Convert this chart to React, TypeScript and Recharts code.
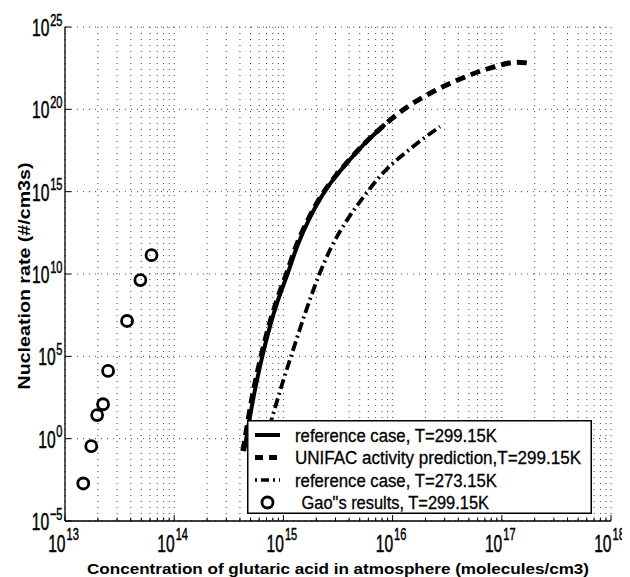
import React from "react";
import {
  CartesianGrid,
  ComposedChart,
  Legend,
  Line,
  Scatter,
  XAxis,
  YAxis,
} from "recharts";

// axis decades and minor steps
const xDecades = [1e13, 1e14, 1e15, 1e16, 1e17, 1e18];
const yDecades = [1e-5, 1e0, 1e5, 1e10, 1e15, 1e20, 1e25];
const minorSteps = [2, 3, 4, 5, 6, 7, 8, 9];

// reference case, T=299.15K
const refWarmX = [4.37e14, 4.57e14, 5.25e14, 6.41e14, 7.59e14, 8.91e14, 1.09e15, 1.34e15, 1.78e15, 2.25e15, 2.95e15, 3.85e15, 5.62e15, 8.5e15];
const refWarmY = [0.178, 1, 200, 1e5, 7.9e6, 2.5e8, 1e10, 5e11, 3.4e13, 5.5e14, 7.1e15, 5.9e16, 9.1e17, 1.2e19];

// UNIFAC activity prediction, T=299.15K
const unifacX = [4.25e14, 4.45e14, 5.1e14, 6.24e14, 7.4e14, 8.7e14, 1.065e15, 1.31e15, 1.75e15, 2.22e15, 2.92e15, 3.82e15, 5.6e15, 8.5e15, 1.36e16, 2.36e16, 4.16e16, 7.8e16, 1.38e17, 1.82e17];
const unifacY = [0.178, 1, 200, 1e5, 7.9e6, 2.5e8, 1e10, 5e11, 3.4e13, 5.5e14, 7.1e15, 5.9e16, 9.1e17, 1.2e19, 1.38e20, 1.2e21, 7e21, 3.2e22, 7.2e22, 6.3e22];

// reference case, T=273.15K
const refColdX = [6.61e14, 7.91e14, 9.66e14, 1.18e15, 1.58e15, 2.08e15, 2.69e15, 3.85e15, 5.38e15, 7.7e15, 1.45e16, 2.72e16];
const refColdY = [0.33, 20.4, 1.74e3, 1.1e5, 4e7, 6.3e9, 3.2e11, 2e13, 4.5e14, 8.9e15, 4e17, 8.9e18];

// Gao's results, T=299.15K
const gaoX = [1.47e13, 1.74e13, 1.97e13, 2.23e13, 2.48e13, 3.7e13, 4.9e13, 6.2e13];
const gaoY = [1.9e-3, 0.35, 27, 123, 1.3e4, 1.4e7, 4.3e9, 1.4e11];

const legendLabels = [
  "reference case, T=299.15K",
  "UNIFAC activity prediction,T=299.15K",
  "reference case, T=273.15K",
  " Gao\"s results, T=299.15K",
];

const toPoints = (xs: number[], ys: number[]) => xs.map((x, i) => ({ x, y: ys[i] }));

const xTicks = [
  ...xDecades,
  ...xDecades.slice(0, -1).flatMap((d) => minorSteps.map((m) => m * d)),
].sort((a, b) => a - b);

const FONT = "'Liberation Sans', Arial, Helvetica, sans-serif";
const SQUEEZE = 0.65;
const BASE_FS = 24;
const EXP_FS = 17;

const expLabel = (v: number) => {
  const e = Math.round(Math.log10(v));
  return e < 0 ? "\u2212" + Math.abs(e) : String(e);
};

// rough width of the exponent text once squeezed
const expWidth = (s: string) =>
  s.split("").reduce((w, c) => w + (c === "\u2212" ? 0.584 : 0.556), 0) * EXP_FS * SQUEEZE;

const Squeezed = ({ x, y, anchor, size, children }: any) => (
  <text
    transform={`translate(${x},${y}) scale(${SQUEEZE},1)`}
    textAnchor={anchor}
    fontFamily={FONT}
    fontSize={size}
    fill="#000"
    stroke="#000"
    strokeWidth={0.5}
  >
    {children}
  </text>
);

const BottomTick = (props: any) => {
  const { x, y, payload } = props;
  const major = xDecades.includes(payload.value);
  return (
    <g>
      <line x1={x} x2={x} y1={y} y2={y - (major ? 6 : 3.5)} stroke="#000" />
      {major && (
        <g>
          <Squeezed x={x + 0.5} y={y + 31} anchor="end" size={BASE_FS}>
            10
          </Squeezed>
          <Squeezed x={x + 1.5} y={y + 19} anchor="start" size={EXP_FS}>
            {expLabel(payload.value)}
          </Squeezed>
        </g>
      )}
    </g>
  );
};

const TopTick = (props: any) => {
  const { x, y, payload } = props;
  const major = xDecades.includes(payload.value);
  return <line x1={x} x2={x} y1={y} y2={y + (major ? 6 : 3.5)} stroke="#000" />;
};

const LeftTick = (props: any) => {
  const { x, y, payload } = props;
  const e = expLabel(payload.value);
  const ew = expWidth(e);
  return (
    <g>
      <line x1={x} x2={x + 6} y1={y} y2={y} stroke="#000" />
      <Squeezed x={x - 2.5 - ew - 0.8} y={y + 9} anchor="end" size={BASE_FS}>
        10
      </Squeezed>
      <Squeezed x={x - 2.5} y={y - 1.5} anchor="end" size={EXP_FS}>
        {e}
      </Squeezed>
    </g>
  );
};

const RightTick = (props: any) => {
  const { x, y } = props;
  return <line x1={x} x2={x - 6} y1={y} y2={y} stroke="#000" />;
};

const Ring = (props: any) => (
  <circle cx={props.cx} cy={props.cy} r={5.5} fill="none" stroke="#000" strokeWidth={2.8} />
);

const legendWidths = [202, 286, 202, 188];

const LegendBox = () => (
  <svg width={345} height={94} style={{ display: "block", overflow: "visible" }}>
    <rect x={0.75} y={0.75} width={343.5} height={92.5} fill="#fff" stroke="#000" strokeWidth={1.5} />
    {legendLabels.map((label, i) => {
      const cy = 15 + 22.5 * i;
      let sample;
      if (i === 0) sample = <line x1={8} x2={33} y1={cy} y2={cy} stroke="#000" strokeWidth={4} />;
      else if (i === 1)
        sample = <line x1={8} x2={33} y1={cy} y2={cy} stroke="#000" strokeWidth={5} strokeDasharray="8 6" />;
      else if (i === 2)
        sample = <line x1={8} x2={33} y1={cy} y2={cy} stroke="#000" strokeWidth={3.5} strokeDasharray="2 4 8 4" />;
      else sample = <circle cx={20.5} cy={cy} r={5.5} fill="none" stroke="#000" strokeWidth={2.8} />;
      return (
        <g key={label}>
          {sample}
          <text
            x={i === 3 ? 50 : 48}
            y={cy + 6.5}
            fontSize={18}
            fontFamily={FONT}
            fill="#000"
            stroke="#000"
            strokeWidth={0.3}
            textLength={legendWidths[i] + (i === 3 ? 4 : 0)}
            lengthAdjust="spacingAndGlyphs"
            style={{ whiteSpace: "pre" }}
          >
            {label}
          </text>
        </g>
      );
    })}
  </svg>
);

const XTitle = (props: any) => {
  const vb = props.viewBox;
  return (
    <text
      x={vb.x + vb.width / 2}
      y={vb.y + 53}
      textAnchor="middle"
      fontSize={15.5}
      fontWeight="bold"
      fontFamily={FONT}
      fill="#000"
      textLength={502}
      lengthAdjust="spacingAndGlyphs"
    >
      Concentration of glutaric acid in atmosphere (molecules/cm3)
    </text>
  );
};

const YTitle = (props: any) => {
  const vb = props.viewBox;
  const cx = 21.5;
  const cy = vb.y + vb.height / 2 + 2;
  return (
    <text
      transform={`translate(${cx},${cy}) rotate(-90)`}
      textAnchor="middle"
      fontSize={16.5}
      fontWeight="bold"
      fontFamily={FONT}
      fill="#000"
      textLength={227}
      lengthAdjust="spacingAndGlyphs"
    >
      Nucleation rate (#/cm3s)
    </text>
  );
};

export default function App() {
  return (
    <div style={{ width: 622, height: 569 }}>
      <ComposedChart
        width={622}
        height={569}
        margin={{ top: 19, right: 19, left: 0, bottom: 0 }}
      >
        <CartesianGrid xAxisId="b" yAxisId="l" stroke="#444" strokeDasharray="1 5" />
        <XAxis
          xAxisId="b"
          dataKey="x"
          type="number"
          scale="log"
          domain={[1e13, 1e18]}
          ticks={xTicks}
          interval={0}
          allowDataOverflow
          height={56}
          tickSize={0}
          tickMargin={0}
          tickLine={false}
          tick={<BottomTick />}
          axisLine={{ stroke: "#000", strokeWidth: 1.3 }}
          label={{ content: <XTitle /> }}
        />
        <XAxis
          xAxisId="t"
          orientation="top"
          dataKey="x"
          type="number"
          scale="log"
          domain={[1e13, 1e18]}
          ticks={xTicks}
          interval={0}
          allowDataOverflow
          height={0}
          tickSize={0}
          tickMargin={0}
          tickLine={false}
          tick={<TopTick />}
          axisLine={{ stroke: "#000", strokeWidth: 1.3 }}
        />
        <YAxis
          yAxisId="l"
          dataKey="y"
          type="number"
          scale="log"
          domain={[1e-5, 1e25]}
          ticks={yDecades}
          interval={0}
          allowDataOverflow
          width={57}
          tickSize={0}
          tickMargin={0}
          tickLine={false}
          tick={<LeftTick />}
          axisLine={{ stroke: "#000", strokeWidth: 1.3 }}
          label={{ content: <YTitle /> }}
        />
        <YAxis
          yAxisId="r"
          orientation="right"
          dataKey="y"
          type="number"
          scale="log"
          domain={[1e-5, 1e25]}
          ticks={yDecades}
          interval={0}
          allowDataOverflow
          width={0}
          tickSize={0}
          tickMargin={0}
          tickLine={false}
          tick={<RightTick />}
          axisLine={{ stroke: "#000", strokeWidth: 1.3 }}
        />
        <Line
          xAxisId="b"
          yAxisId="l"
          data={toPoints(refWarmX, refWarmY)}
          dataKey="y"
          type="monotone"
          stroke="#000"
          strokeWidth={4}
          dot={false}
          isAnimationActive={false}
        />
        <Line
          xAxisId="b"
          yAxisId="l"
          data={toPoints(unifacX, unifacY)}
          dataKey="y"
          type="monotone"
          stroke="#000"
          strokeWidth={5}
          strokeDasharray="10 6"
          dot={false}
          isAnimationActive={false}
        />
        <Line
          xAxisId="b"
          yAxisId="l"
          data={toPoints(refColdX, refColdY)}
          dataKey="y"
          type="monotone"
          stroke="#000"
          strokeWidth={3.8}
          strokeDasharray="10 4 2 4"
          dot={false}
          isAnimationActive={false}
        />
        <Scatter
          xAxisId="b"
          yAxisId="l"
          data={toPoints(gaoX, gaoY)}
          dataKey="y"
          shape={<Ring />}
          isAnimationActive={false}
        />
        <Legend
          layout="vertical"
          align="center"
          verticalAlign="middle"
          content={<LegendBox />}
          wrapperStyle={{ position: "absolute", left: 239, top: 412, width: 345, height: 94 }}
        />
      </ComposedChart>
    </div>
  );
}
